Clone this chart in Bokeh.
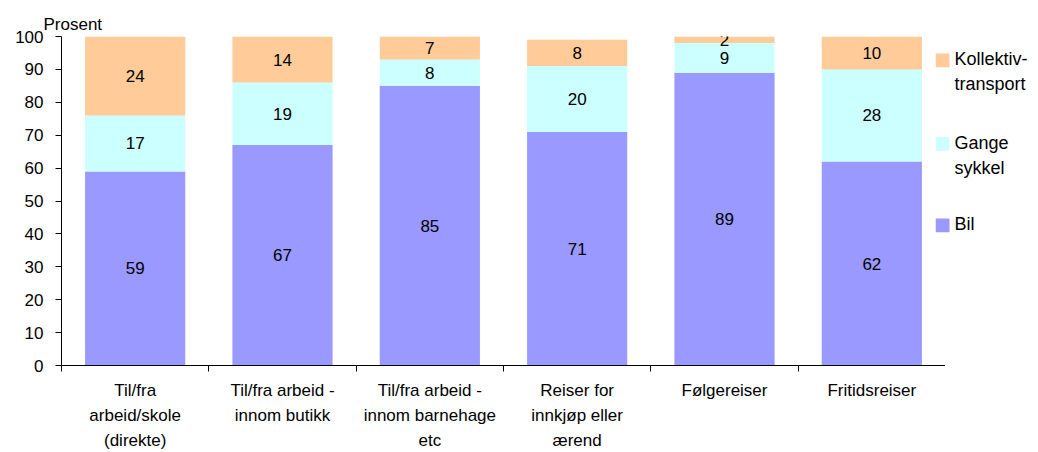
from bokeh.plotting import figure
from bokeh.models import Range1d, FixedTicker, Title, ColumnDataSource
from bokeh.layouts import row
from bokeh.embed import file_html
from bokeh.resources import INLINE
from bokeh.core.properties import value

# Reisemiddel fordelt på reiseformål (prosent)
categories = [
    "Til/fra\narbeid/skole\n(direkte)",
    "Til/fra arbeid -\ninnom butikk",
    "Til/fra arbeid -\ninnom barnehage\netc",
    "Reiser for\ninnkjøp eller\nærend",
    "Følgereiser",
    "Fritidsreiser",
]
bil = [59, 67, 85, 71, 89, 62]
gange_sykkel = [17, 19, 8, 20, 9, 28]
kollektiv = [24, 14, 7, 8, 2, 10]

series_labels = ["Bil", "Gange\nsykkel", "Kollektiv-\ntransport"]
series_colors = ["#9999FF", "#CCFFFF", "#FFCC99"]
y_ticks = list(range(0, 101, 10))

FONT = "Liberation Sans"
SIZE = "17px"

W, H = 945, 452
TOP, BOTTOM, LEFT = 36, 85, 61

n = len(categories)
centers = [i + 0.5 for i in range(n)]
boundaries = list(range(n + 1))

p = figure(
    width=W, height=H,
    x_range=Range1d(0, n), y_range=Range1d(0, 100),
    output_backend="svg", toolbar_location=None,
    min_border_left=LEFT, min_border_right=0,
    min_border_top=TOP, min_border_bottom=BOTTOM,
)
p.outline_line_color = None
p.xgrid.visible = False
p.ygrid.visible = False
p.background_fill_color = "white"
p.border_fill_color = "white"

# stacked segments with value labels
series = [bil, gange_sykkel, kollektiv]
bottoms = [0] * n
for vals, color in zip(series, series_colors):
    tops = [b + v for b, v in zip(bottoms, vals)]
    src = ColumnDataSource(dict(
        x=centers, bottom=bottoms, top=tops,
        mid=[(b + t) / 2 for b, t in zip(bottoms, tops)],
        lbl=[str(v) for v in vals],
    ))
    p.vbar(x="x", bottom="bottom", top="top", width=0.68, source=src,
           fill_color=color, line_color=None)
    p.text(x="x", y="mid", text="lbl", source=src,
           text_align="center", text_baseline="middle",
           text_font=value(FONT), text_font_size=value(SIZE), text_color="black")
    bottoms = tops

# y axis
yax = p.yaxis[0]
yax.ticker = FixedTicker(ticks=y_ticks)
yax.axis_line_color = "black"
yax.major_tick_line_color = "black"
yax.major_tick_out = 6
yax.major_tick_in = 0
yax.minor_tick_line_color = None
yax.major_label_standoff = 12
yax.major_label_text_font = FONT
yax.major_label_text_font_size = SIZE
yax.major_label_text_color = "black"

# x axis: labels at category centres, tick marks at category boundaries
xax = p.xaxis[0]
xax.ticker = FixedTicker(ticks=centers, minor_ticks=boundaries)
xax.major_label_overrides = {c: lab for c, lab in zip(centers, categories)}
xax.axis_line_color = "black"
xax.major_tick_out = 0
xax.major_tick_in = 0
xax.minor_tick_line_color = "black"
xax.minor_tick_out = 6
xax.minor_tick_in = 0
xax.major_label_standoff = 9
xax.major_label_text_font = FONT
xax.major_label_text_font_size = SIZE
xax.major_label_text_color = "black"
xax.major_label_text_line_height = 1.32

p.add_layout(Title(text="Prosent", align="left", offset=-18, standoff=6,
                   text_font=FONT, text_font_size=SIZE, text_font_style="normal",
                   text_color="black"), "above")

# legend panel; its frame lines up with the chart frame, so the ranges
# are chosen to give one unit per canvas pixel
LEG_W = 103
leg = figure(
    width=LEG_W, height=H,
    x_range=Range1d(0, LEG_W), y_range=Range1d(H - BOTTOM, TOP),
    output_backend="svg", toolbar_location=None,
    min_border_left=0, min_border_right=0,
    min_border_top=TOP, min_border_bottom=BOTTOM,
)
leg.axis.visible = False
leg.grid.visible = False
leg.outline_line_color = None
leg.background_fill_color = None
leg.border_fill_color = None
leg.margin = (0, 0, 0, -10)

SWATCH = 14
LINE_STEP = 25
legend_tops = [53, 137, 219]          # Kollektiv, Gange/sykkel, Bil
legend_order = [2, 1, 0]
sw_x, sw_y, sw_c = [], [], []
tx, ty, tt = [], [], []
for top, idx in zip(legend_tops, legend_order):
    sw_x.append(SWATCH / 2)
    sw_y.append(top + SWATCH / 2)
    sw_c.append(series_colors[idx])
    for k, line in enumerate(series_labels[idx].split("\n")):
        tx.append(SWATCH + 5)
        ty.append(top + SWATCH / 2 - 1 + k * LINE_STEP)
        tt.append(line)
leg.rect(x=sw_x, y=sw_y, width=SWATCH, height=SWATCH, fill_color=sw_c, line_color=None)
leg.text(x=tx, y=ty, text=tt, text_align="left", text_baseline="middle",
         text_font=value(FONT), text_font_size=value("18px"), text_color="black")

layout = row(p, leg, spacing=0)
open("out.html", "w").write(file_html(layout, INLINE))
